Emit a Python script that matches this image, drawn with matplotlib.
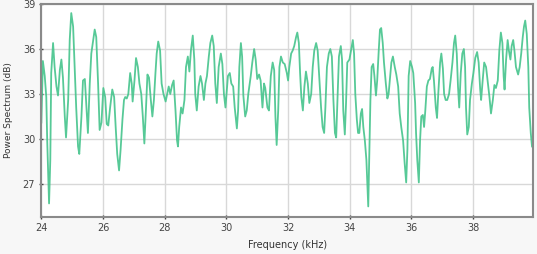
import numpy as np
import matplotlib
matplotlib.use("Agg")
import matplotlib.pyplot as plt

# ========================================
# data
# ========================================
freq_khz = [
    24.00, 24.05, 24.11, 24.16, 24.19, 24.25, 24.29, 24.32, 24.38, 24.43,
    24.49, 24.54, 24.60, 24.65, 24.70, 24.76, 24.80, 24.87, 24.92, 24.97,
    25.03, 25.08, 25.13, 25.19, 25.23, 25.30, 25.35, 25.41, 25.46, 25.51,
    25.57, 25.62, 25.68, 25.73, 25.78, 25.84, 25.89, 25.95, 26.01, 26.07,
    26.12, 26.17, 26.23, 26.30, 26.36, 26.41, 26.46, 26.52, 26.57, 26.63,
    26.68, 26.72, 26.77, 26.82, 26.88, 26.93, 26.96, 27.02, 27.07, 27.13,
    27.18, 27.24, 27.29, 27.34, 27.39, 27.44, 27.49, 27.55, 27.60, 27.65,
    27.70, 27.74, 27.79, 27.85, 27.90, 27.96, 28.03, 28.08, 28.13, 28.18,
    28.24, 28.29, 28.35, 28.40, 28.43, 28.47, 28.53, 28.58, 28.64, 28.69,
    28.75, 28.80, 28.85, 28.91, 28.96, 28.99, 29.04, 29.10, 29.16, 29.21,
    29.27, 29.32, 29.37, 29.43, 29.48, 29.54, 29.59, 29.64, 29.69, 29.75,
    29.82, 29.87, 29.92, 29.97, 30.05, 30.11, 30.16, 30.22, 30.27, 30.34,
    30.38, 30.42, 30.47, 30.51, 30.55, 30.61, 30.66, 30.71, 30.79, 30.84,
    30.90, 30.95, 31.00, 31.06, 31.11, 31.17, 31.22, 31.26, 31.33, 31.38,
    31.44, 31.50, 31.55, 31.59, 31.63, 31.68, 31.72, 31.77, 31.83, 31.89,
    31.96, 32.00, 32.04, 32.10, 32.15, 32.20, 32.26, 32.30, 32.35, 32.39,
    32.43, 32.48, 32.53, 32.58, 32.64, 32.69, 32.75, 32.80, 32.85, 32.91,
    32.96, 33.01, 33.07, 33.12, 33.17, 33.21, 33.26, 33.32, 33.37, 33.42,
    33.47, 33.52, 33.56, 33.60, 33.65, 33.71, 33.75, 33.79, 33.84, 33.88,
    33.92, 33.99, 34.04, 34.10, 34.14, 34.18, 34.23, 34.27, 34.31, 34.36,
    34.40, 34.44, 34.49, 34.54, 34.57, 34.60, 34.63, 34.67, 34.71, 34.76,
    34.80, 34.85, 34.89, 34.94, 34.98, 35.02, 35.07, 35.11, 35.17, 35.22,
    35.26, 35.31, 35.35, 35.40, 35.46, 35.51, 35.57, 35.62, 35.67, 35.73,
    35.78, 35.83, 35.87, 35.91, 35.96, 36.02, 36.06, 36.12, 36.15, 36.19,
    36.24, 36.28, 36.32, 36.37, 36.41, 36.45, 36.50, 36.55, 36.60, 36.66,
    36.69, 36.73, 36.79, 36.83, 36.87, 36.93, 36.97, 37.02, 37.06, 37.11,
    37.16, 37.22, 37.27, 37.33, 37.38, 37.42, 37.47, 37.51, 37.55, 37.60,
    37.65, 37.70, 37.74, 37.77, 37.81, 37.86, 37.90, 37.96, 38.01, 38.07,
    38.13, 38.18, 38.23, 38.26, 38.31, 38.36, 38.42, 38.47, 38.53, 38.58,
    38.64, 38.69, 38.74, 38.80, 38.85, 38.90, 38.95, 38.99, 39.02, 39.07,
    39.12, 39.16, 39.21, 39.25, 39.30, 39.34, 39.39, 39.46, 39.51, 39.56,
    39.61, 39.65, 39.69, 39.74, 39.79, 39.82, 39.87, 39.91,
]
power_db = [
    31.1, 35.2, 34.2, 32.8, 29.9, 25.7, 28.6, 34.4, 36.4, 34.8,
    33.5, 32.9, 34.6, 35.3, 34.1, 31.5, 30.1, 32.6, 36.6, 38.4,
    37.5, 34.8, 32.1, 29.5, 29.0, 31.5, 33.9, 34.0, 32.2, 30.4,
    33.7, 35.7, 36.6, 37.3, 36.8, 33.7, 30.6, 31.1, 33.4, 32.8,
    31.0, 30.9, 32.1, 33.3, 32.8, 30.8, 29.0, 27.9, 29.3, 31.3,
    32.6, 32.8, 32.7, 33.0, 34.4, 33.7, 32.5, 33.9, 35.4, 34.8,
    33.7, 33.0, 31.5, 29.7, 31.9, 34.3, 34.1, 32.6, 31.5, 32.6,
    34.4, 35.7, 36.5, 35.9, 33.7, 33.0, 32.5, 33.0, 33.5, 33.0,
    33.6, 33.9, 31.9, 29.9, 29.5, 30.8, 32.1, 31.7, 32.6, 34.8,
    35.5, 34.5, 35.9, 36.9, 35.3, 33.0, 31.9, 33.5, 34.2, 33.7,
    32.6, 33.7, 34.2, 35.5, 36.4, 36.9, 36.2, 33.7, 32.4, 34.8,
    35.7, 35.0, 33.0, 32.1, 34.2, 34.4, 33.7, 33.5, 32.1, 30.7,
    31.9, 34.8, 36.4, 35.5, 32.9, 31.5, 31.9, 33.0, 34.2, 35.1,
    36.0, 35.3, 34.0, 34.3, 33.9, 32.1, 33.7, 33.4, 32.1, 31.9,
    34.2, 35.1, 34.6, 31.5, 29.6, 31.9, 34.8, 35.5, 35.1, 35.0,
    34.4, 33.9, 34.8, 35.7, 35.9, 36.2, 36.8, 37.1, 36.4, 34.4,
    32.8, 31.9, 33.5, 34.5, 33.7, 32.4, 33.0, 34.8, 35.9, 36.4,
    35.9, 34.2, 32.1, 30.8, 30.4, 32.1, 34.8, 35.7, 36.0, 35.5,
    32.6, 30.4, 30.1, 32.6, 35.5, 36.2, 35.3, 31.9, 30.3, 32.4,
    35.1, 35.3, 35.9, 36.6, 35.7, 33.0, 31.3, 30.4, 30.4, 31.7,
    32.0, 30.8, 29.9, 28.6, 27.1, 25.5, 28.6, 32.6, 34.8, 35.0,
    34.2, 32.9, 33.9, 35.9, 37.3, 37.4, 36.4, 35.1, 33.7, 32.7,
    33.0, 34.2, 35.1, 35.5, 34.8, 34.3, 33.5, 31.7, 30.8, 29.9,
    28.4, 27.1, 29.3, 34.2, 35.2, 34.8, 34.4, 32.4, 30.4, 28.6,
    27.1, 29.9, 31.5, 31.6, 30.8, 31.9, 33.5, 33.9, 34.0, 34.7,
    34.8, 33.9, 32.1, 31.4, 33.0, 35.1, 35.7, 34.7, 33.0, 32.6,
    32.6, 33.0, 33.9, 35.1, 36.4, 36.9, 35.7, 33.5, 32.1, 34.4,
    35.7, 36.0, 34.8, 32.1, 30.3, 30.8, 32.6, 33.7, 34.4, 35.4,
    35.8, 35.1, 33.3, 32.6, 33.9, 35.1, 34.8, 33.9, 32.8, 31.7,
    32.6, 33.6, 33.4, 33.9, 35.9, 37.1, 36.4, 34.2, 33.3, 35.3,
    36.6, 35.9, 35.3, 36.2, 36.6, 35.9, 34.8, 34.3, 34.8, 35.7,
    36.8, 37.5, 37.9, 37.0, 34.8, 32.1, 30.4, 29.5,
]
x_ticks = [24, 26, 28, 30, 32, 34, 36, 38]
y_ticks = [27, 30, 33, 36, 39]

############          plot            ############
fig = plt.figure(figsize=(5.37, 2.54), dpi=100, facecolor="#f7f7f7")
ax = fig.add_axes([0.077, 0.146, 0.916, 0.838])
ax.set_facecolor("white")

ax.plot(freq_khz, power_db, color="#45c48c", lw=1.3, alpha=0.9, solid_joinstyle="round")

ax.set_xlim(24, 39.95)
ax.set_ylim(24.8, 39)
ax.set_xticks(x_ticks)
ax.set_yticks(y_ticks)
ax.grid(True, color="#d8d8d8", lw=1.0)
ax.set_axisbelow(True)

for s in ax.spines.values():
    s.set_color("#8a8a8a")
    s.set_linewidth(1.5)

ax.tick_params(axis="both", labelsize=7, colors="#444444", length=3, width=1,
               direction="inout", pad=3)
ax.set_xlabel("Frequency (kHz)", fontsize=7, color="#333333", labelpad=5)
ax.set_ylabel("Power Spectrum (dB)", fontsize=6.5, color="#333333", labelpad=7)

fig.savefig("out.png", dpi=100, facecolor=fig.get_facecolor())
